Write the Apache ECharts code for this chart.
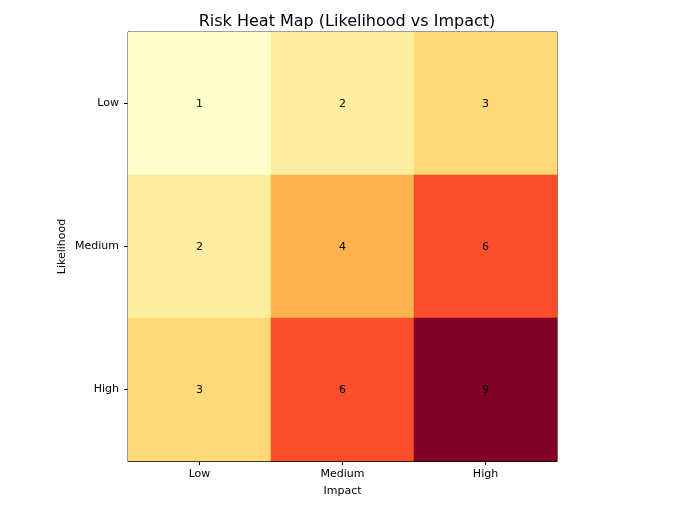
<!DOCTYPE html>
<html>
<head>
<meta charset="utf-8">
<script src="https://cdn.jsdelivr.net/npm/echarts@6/dist/echarts.min.js"></script>
<style>
    html, body { margin: 0; padding: 0; background: #fff; }
    #chart { width: 680px; height: 510px; }
</style>
</head>
<body>
<div id="chart"></div>
<script>
const impactLevels = ['Low', 'Medium', 'High'];
const likelihoodLevels = ['Low', 'Medium', 'High'];
// rows = likelihood, cols = impact
const riskScores = [
    [1, 2, 3],
    [2, 4, 6],
    [3, 6, 9]
];
const ylOrRd = ['#ffffcc', '#ffeda0', '#fed976', '#feb24c', '#fd8d3c',
                '#fc4e2a', '#e31a1c', '#bd0026', '#800026'];

const font = 'DejaVu Sans';

var cells = [];
riskScores.forEach((row, i) => {
    row.forEach((v, j) => {
        cells.push([j, i, v]);
    });
});

var chart = echarts.init(document.getElementById('chart'));
var option = {
    backgroundColor: '#fff',
    animation: false,
    title: {
        text: 'Risk Heat Map (Likelihood vs Impact)',
        left: 342,
        textAlign: 'center',
        top: 9,
        textStyle: {
            fontFamily: font,
            fontSize: 16,
            fontWeight: 'normal',
            color: '#000'
        }
    },
    grid: {
        left: 128,
        top: 32,
        width: 429,
        height: 429,
        show: true,
        borderColor: '#000',
        borderWidth: 1,
        backgroundColor: 'transparent'
    },
    xAxis: {
        type: 'category',
        data: impactLevels,
        name: 'Impact',
        nameLocation: 'middle',
        nameGap: 25,
        nameTextStyle: { fontFamily: font, fontSize: 11, color: '#000' },
        axisLine: { show: true, lineStyle: { color: '#000', width: 1 } },
        axisTick: { show: true, alignWithLabel: true, length: 4, lineStyle: { color: '#000' } },
        axisLabel: { fontFamily: font, fontSize: 11, color: '#000', margin: 8 },
        splitLine: { show: false },
        splitArea: { show: false }
    },
    yAxis: {
        type: 'category',
        data: likelihoodLevels,
        inverse: true,
        name: 'Likelihood',
        nameLocation: 'middle',
        nameGap: 60,
        nameMoveOverlap: false,
        nameTextStyle: { fontFamily: font, fontSize: 11, color: '#000' },
        axisLine: { show: true, lineStyle: { color: '#000', width: 1 } },
        axisTick: { show: true, alignWithLabel: true, length: 4, lineStyle: { color: '#000' } },
        axisLabel: { fontFamily: font, fontSize: 11, color: '#000', margin: 9, padding: [3, 0, 0, 0] },
        splitLine: { show: false },
        splitArea: { show: false }
    },
    visualMap: {
        show: false,
        type: 'continuous',
        min: 1,
        max: 9,
        dimension: 2,
        inRange: { color: ylOrRd }
    },
    series: [{
        type: 'heatmap',
        data: cells,
        label: {
            show: true,
            fontFamily: font,
            fontSize: 11,
            color: '#000',
            offset: [0, 1]
        },
        itemStyle: { borderWidth: 0 },
        emphasis: { disabled: true }
    }]
};
chart.setOption(option);
</script>
</body>
</html>
